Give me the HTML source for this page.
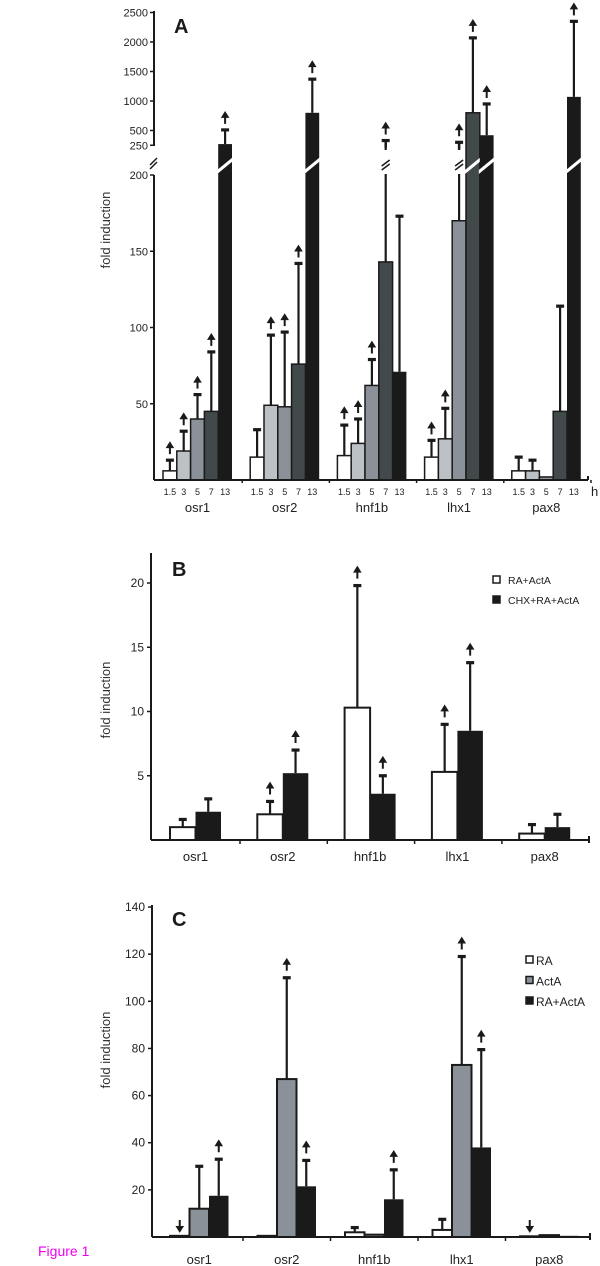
<!DOCTYPE html>
<html><head><meta charset="utf-8"><style>
html,body{margin:0;padding:0;background:#fff;}
svg{display:block;font-family:"Liberation Sans",Arial,sans-serif;}
</style></head><body>
<svg id="fig" width="600" height="1266" viewBox="0 0 600 1266" xmlns="http://www.w3.org/2000/svg">
<text x="38" y="1256" font-size="14" fill="#ee00ee">Figure 1</text>
</svg>
<script>
// ---------- DATA ----------
const genes = ["osr1","osr2","hnf1b","lhx1","pax8"];
const hours = ["1.5","3","5","7","13"];
// Panel A: rows = genes, columns = hours
const aValues = [[6,19,40,45,270],[15,49,48,76,800],[16,24,62,143,71],[15,27,170,800,420],[6,6,2,45,1070]];
const aErrors = [[13,32,56,84,510],[33,95,97,142,1370],[36,40,79,330,173],[26,47,300,2070,950],[15,13,null,114,2350]];
const aArrows = [[1,1,1,1,1],[0,1,1,1,1],[1,1,1,1,0],[1,1,1,1,1],[0,0,0,0,1]];
const aLowTicks = [50,100,150,200];
const aHighTicks = [250,500,1000,1500,2000,2500];
// Panel B
const bSeries = ["RA+ActA","CHX+RA+ActA"];
const bValues = [[1.0,2.0,10.3,5.3,0.5],[2.2,5.2,3.6,8.5,1.0]];
const bErrors = [[1.6,3.0,19.8,9.0,1.2],[3.2,7.0,5.0,13.8,2.0]];
const bArrows = [[0,1,1,1,0],[0,1,1,1,0]];
const bTicks = [5,10,15,20];
// Panel C
const cSeries = ["RA","ActA","RA+ActA"];
const cValues = [[0.5,0.5,2,3,0.3],[12,67,1,73,0.8],[17.5,21.5,16,38,0.5]];
const cErrors = [[null,null,4,7.5,null],[30,110,null,119,null],[33,32.5,28.5,79.5,null]];
const cArrows = [[-1,0,0,0,-1],[0,1,0,1,0],[1,1,1,1,0]];
const cTicks = [20,40,60,80,100,120,140];

// ---------- HELPERS ----------
const svg = document.getElementById('fig');
const NS = "http://www.w3.org/2000/svg";
function mk(tag, attrs, parent){ const e=document.createElementNS(NS,tag); for(const k in attrs) e.setAttribute(k,attrs[k]); (parent||svg).appendChild(e); return e; }
function txt(x,y,s,size,extra){ const t=mk('text',Object.assign({x:x,y:y,'font-size':size,fill:'#222'},extra||{})); t.textContent=s; return t; }
const INK="#1a1a1a";
function errBar(x,y0,y1,cap){ mk('line',{x1:x,y1:y0,x2:x,y2:y1,stroke:INK,'stroke-width':2.2}); mk('line',{x1:x-cap,y1:y1,x2:x+cap,y2:y1,stroke:INK,'stroke-width':3.2}); }
function arrow(x,y,dir){
  let d;
  if(dir>0) d=`M${x},${y} L${x},${y-7} M${x-2.5},${y-7} L${x},${y-11} L${x+2.5},${y-7} Z`;
  else d=`M${x},${y-11} L${x},${y-4} M${x-2.5},${y-4} L${x},${y} L${x+2.5},${y-4} Z`;
  const p=mk('path',{d:d,stroke:INK,'stroke-width':2,fill:INK});
  
  
}
function ylabel(x,y){ const t=txt(x,y,"fold induction",13,{'text-anchor':'middle',transform:`rotate(-90 ${x} ${y})`,fill:'#333'});   }

// ---------- PANEL A ----------
const aBase=480, axA=154;
function yA(v){ return v<=200 ? aBase - v*1.525 : 160 - v*0.0590; }
const aColors=["#ffffff","#bcc1c6","#8b9199","#42494b","#1a1a1a"];
function xA(g,h){ return 163 + g*87.2 + h*13.8; }
const aW=13.8;
mk('line',{x1:axA,y1:175,x2:axA,y2:aBase,stroke:INK,'stroke-width':2});
mk('line',{x1:axA,y1:11,x2:axA,y2:146,stroke:INK,'stroke-width':2});
mk('line',{x1:150,y1:165,x2:157,y2:158,stroke:INK,'stroke-width':1.5});
mk('line',{x1:150,y1:169,x2:157,y2:162,stroke:INK,'stroke-width':1.5});
aLowTicks.concat(aHighTicks).forEach(v=>{
  const y=yA(v); mk('line',{x1:axA-4,y1:y,x2:axA,y2:y,stroke:INK,'stroke-width':1.5});
  const t=txt(axA-6,y+4,String(v),11,{'text-anchor':'end'});  
});
ylabel(110,230);
const lA=txt(174,33,"A",20,{'font-weight':'bold',fill:INK});  
genes.forEach((gn,g)=>{
  hours.forEach((hr,h)=>{
    const v=aValues[g][h], e=aErrors[g][h], x=xA(g,h), cx=x+aW/2;
    const top=yA(v);
    if(e!=null){
      const ey=yA(e);
      errBar(cx,top,ey,4);
      if(v<=200 && e>200){
        mk('rect',{x:cx-3,y:150,width:6,height:24,fill:'#fff'});
        mk('line',{x1:cx-4,y1:166,x2:cx+4,y2:160,stroke:INK,'stroke-width':1.5});
        mk('line',{x1:cx-4,y1:170,x2:cx+4,y2:164,stroke:INK,'stroke-width':1.5});
        mk('line',{x1:cx,y1:ey,x2:cx,y2:ey+7,stroke:INK,'stroke-width':2.5});
      }
    }
    const r=mk('rect',{x:x,y:top,width:aW,height:aBase-top,fill:aColors[h],stroke:INK,'stroke-width':h===4?0:1.5});
     
    if(v>200){ mk('polygon',{points:`${x-1},${170} ${x+aW+1},${157} ${x+aW+1},${161} ${x-1},${174}`,fill:'#fff'}); }
    if(aArrows[g][h]){ const ay=(e!=null?yA(e):top)-6; arrow(cx,ay,1); }
    const ht=txt(cx,495,hr,9,{'text-anchor':'middle'});  
  });
  const gl=txt(xA(g,2)+aW/2,512,gn,13,{'text-anchor':'middle'});  
  const tx=156+(g+1)*87.2-1; mk('line',{x1:tx,y1:aBase,x2:tx,y2:aBase+3,stroke:INK,'stroke-width':1.5});
});
mk('line',{x1:axA,y1:aBase,x2:588,y2:aBase,stroke:INK,'stroke-width':2});
mk('line',{x1:588,y1:aBase-4,x2:588,y2:aBase,stroke:INK,'stroke-width':2});
const hu=txt(591,496,"h",13);  

// ---------- PANEL B ----------
const bBase=840, axB=151, bK=12.85;
function yB(v){ return bBase - v*bK; }
function xB(g,s){ return 170 + g*87.3 + s*25.5; }
const bW=25.5, bCol=["#ffffff","#1a1a1a"];
mk('line',{x1:axB,y1:553,x2:axB,y2:bBase,stroke:INK,'stroke-width':2});
bTicks.forEach(v=>{ const y=yB(v); mk('line',{x1:axB-4,y1:y,x2:axB,y2:y,stroke:INK,'stroke-width':1.5});
  const t=txt(axB-7,y+4,String(v),12,{'text-anchor':'end'});   });
ylabel(110,700);
const lB=txt(172,576,"B",20,{'font-weight':'bold',fill:INK});  
genes.forEach((gn,g)=>{
  bSeries.forEach((sn,s)=>{
    const v=bValues[s][g], e=bErrors[s][g], x=xB(g,s), cx=x+bW/2, top=yB(v);
    errBar(cx,top,yB(e),4);
    const r=mk('rect',{x:x,y:top,width:bW,height:bBase-top,fill:bCol[s],stroke:INK,'stroke-width':s?0:2});
     
    if(bArrows[s][g]) arrow(cx,yB(e)-7,1);
  });
  const gl=txt(xB(g,1),861,gn,13,{'text-anchor':'middle'});  
  if(g<4){ const tx=240+g*87.3; mk('line',{x1:tx,y1:bBase,x2:tx,y2:bBase+4,stroke:INK,'stroke-width':1.5}); }
});
mk('line',{x1:axB,y1:bBase,x2:589,y2:bBase,stroke:INK,'stroke-width':2});
mk('line',{x1:589,y1:bBase-4,x2:589,y2:bBase+3,stroke:INK,'stroke-width':2});
bSeries.forEach((sn,s)=>{ const y=580+s*20;
  const sq=mk('rect',{x:493,y:y-4,width:7,height:7,fill:bCol[s],stroke:INK,'stroke-width':1.5});  
  const t=txt(508,y+4,sn,10.5);   });

// ---------- PANEL C ----------
const cBase=1237, axC=152, cK=2.357;
function yC(v){ return cBase - v*cK; }
function xC(g,s){ return 170 + g*87.5 + s*19.5; }
const cW=19.5, cCol=["#ffffff","#8b9199","#1a1a1a"];
mk('line',{x1:axC,y1:905,x2:axC,y2:cBase,stroke:INK,'stroke-width':2});
cTicks.forEach(v=>{ const y=yC(v); mk('line',{x1:axC-4,y1:y,x2:axC,y2:y,stroke:INK,'stroke-width':1.5});
  const t=txt(axC-7,y+4,String(v),12,{'text-anchor':'end'});   });
ylabel(110,1050);
const lC=txt(172,926,"C",20,{'font-weight':'bold',fill:INK});  
genes.forEach((gn,g)=>{
  cSeries.forEach((sn,s)=>{
    const v=cValues[s][g], e=cErrors[s][g], x=xC(g,s), cx=x+cW/2, top=yC(v);
    if(e!=null) errBar(cx,top,yC(e),4);
    const r=mk('rect',{x:x,y:top,width:cW,height:cBase-top,fill:cCol[s],stroke:INK,'stroke-width':s===2?0:2});
     
    const a=cArrows[s][g];
    if(a>0) arrow(cx,(e!=null?yC(e):top)-7,1);
    if(a<0) arrow(cx,cBase-6,-1);
  });
  const gl=txt(xC(g,1)+cW/2,1264,gn,13,{'text-anchor':'middle'});  
  if(g<4){ const tx=243+g*87.5; mk('line',{x1:tx,y1:cBase,x2:tx,y2:cBase+4,stroke:INK,'stroke-width':1.5}); }
});
mk('line',{x1:axC,y1:cBase,x2:590,y2:cBase,stroke:INK,'stroke-width':2});
mk('line',{x1:590,y1:cBase-4,x2:590,y2:cBase+3,stroke:INK,'stroke-width':2});
cSeries.forEach((sn,s)=>{ const y=960+s*20.5;
  const sq=mk('rect',{x:526,y:y-4,width:7,height:7,fill:cCol[s],stroke:INK,'stroke-width':1.5});  
  const t=txt(536,y+5,sn,12);   });
</script>
</body></html>
